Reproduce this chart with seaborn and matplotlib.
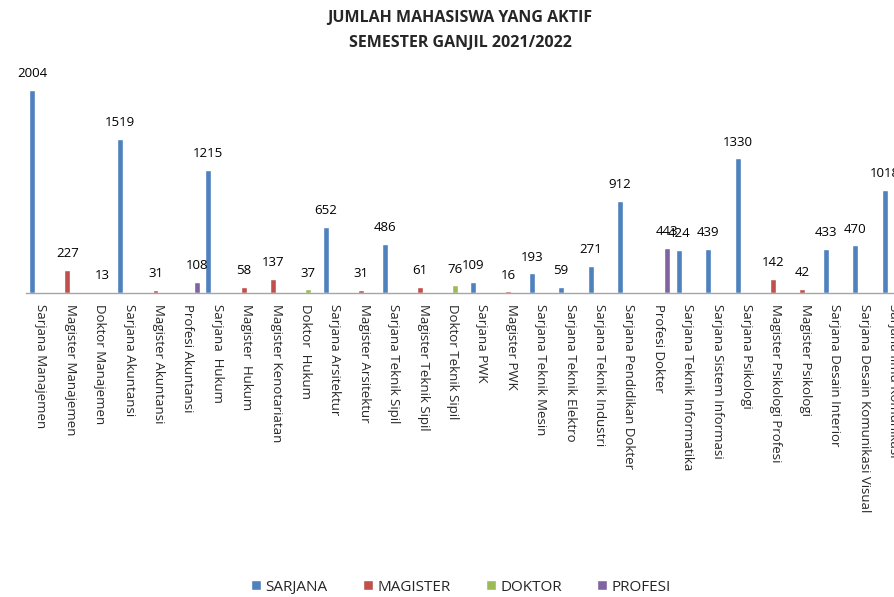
import pandas as pd
import matplotlib.pyplot as plt
import seaborn as sns

# data
programs = [
    'Sarjana Manajemen', 'Magister Manajemen', 'Doktor Manajemen',
    'Sarjana Akuntansi', 'Magister Akuntansi', 'Profesi Akuntansi',
    'Sarjana  Hukum', 'Magister  Hukum', 'Magister Kenotariatan',
    'Doktor  Hukum', 'Sarjana Arsitektur', 'Magister Arsitektur',
    'Sarjana Teknik Sipil', 'Magister Teknik Sipil', 'Doktor Teknik Sipil',
    'Sarjana PWK', 'Magister PWK', 'Sarjana Teknik Mesin',
    'Sarjana Teknik Elektro', 'Sarjana Teknik Industri',
    'Sarjana Pendidikan Dokter', 'Profesi Dokter',
    'Sarjana Teknik Informatika', 'Sarjana Sistem Informasi',
    'Sarjana Psikologi', 'Magister Psikologi Profesi', 'Magister Psikologi',
    'Sarjana Desain Interior', 'Sarjana Desain Komunikasi Visual',
    'Sarjana Ilmu Komunikasi',
]
levels = [
    'SARJANA', 'MAGISTER', 'DOKTOR',
    'SARJANA', 'MAGISTER', 'PROFESI',
    'SARJANA', 'MAGISTER', 'MAGISTER',
    'DOKTOR', 'SARJANA', 'MAGISTER',
    'SARJANA', 'MAGISTER', 'DOKTOR',
    'SARJANA', 'MAGISTER', 'SARJANA',
    'SARJANA', 'SARJANA',
    'SARJANA', 'PROFESI',
    'SARJANA', 'SARJANA',
    'SARJANA', 'MAGISTER', 'MAGISTER',
    'SARJANA', 'SARJANA',
    'SARJANA',
]
students = [
    2004, 227, 13,
    1519, 31, 108,
    1215, 58, 137,
    37, 652, 31,
    486, 61, 76,
    109, 16, 193,
    59, 271,
    912, 443,
    424, 439,
    1330, 142, 42,
    433, 470,
    1018,
]
level_order = ['SARJANA', 'MAGISTER', 'DOKTOR', 'PROFESI']
level_colors = ['#4F81BD', '#C0504D', '#9BBB59', '#8064A2']

df = pd.DataFrame({'program': programs, 'jenis': levels, 'jumlah': students})

sns.set_style('white')
plt.rcParams['font.family'] = ['Open Sans', 'DejaVu Sans']

fig = plt.figure(figsize=(8.94, 5.97), dpi=100)
# plot area runs past the right edge, like the cropped original
ax = fig.add_axes([0.0292, 0.5092, 0.9866, 0.3903])

sns.barplot(data=df, x='program', y='jumlah', hue='jenis',
            hue_order=level_order, palette=level_colors, saturation=1,
            order=programs, dodge=True, width=0.8, ax=ax)

for cont in ax.containers:
    ax.bar_label(cont, padding=7, fontsize=9.5, color='#000000')

ax.set_ylim(0, 2300)
ax.set_xlim(-0.5, len(programs) - 0.5)
ax.set_xlabel('')
ax.set_ylabel('')
ax.set_yticks([])
ax.tick_params(axis='x', length=0, pad=8, labelsize=9.5)
plt.setp(ax.get_xticklabels(), rotation=270, ha='center', va='top')
for side in ['left', 'right', 'top']:
    ax.spines[side].set_visible(False)
ax.spines['bottom'].set_color('#A6A6A6')
ax.spines['bottom'].set_linewidth(1.0)

sns.move_legend(ax, 'center', bbox_to_anchor=(0.493, -1.262), ncol=4,
                frameon=False, title=None, fontsize=11,
                handlelength=0.65, handleheight=0.65, handletextpad=0.3,
                columnspacing=2.3)

fig.text(0.5145, 0.97, 'JUMLAH MAHASISWA YANG AKTIF', ha='center',
         va='center', fontsize=11.5, fontweight='bold')
fig.text(0.5145, 0.928, 'SEMESTER GANJIL 2021/2022', ha='center',
         va='center', fontsize=11.5, fontweight='bold')

fig.savefig('out.png', dpi=100)
